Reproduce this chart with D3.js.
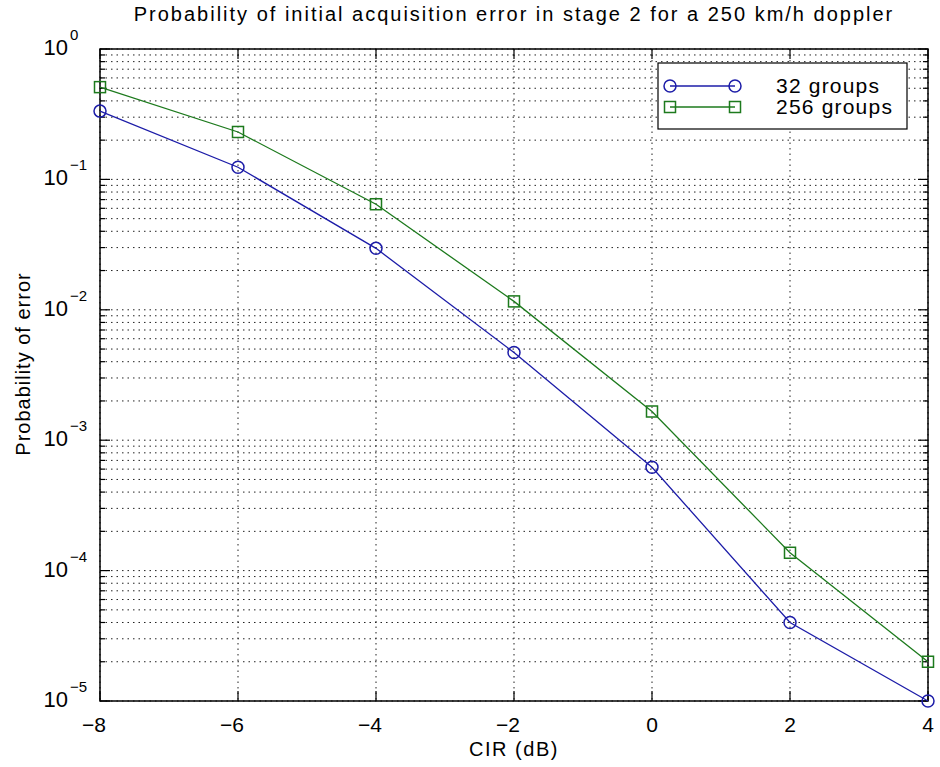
<!DOCTYPE html>
<html>
<head>
<meta charset="utf-8">
<script src="https://cdn.jsdelivr.net/npm/d3@7"></script>
<style>
    body { margin: 0; background: #fff; }
    svg { display: block; font-family: 'Liberation Sans', Arial, sans-serif; }
</style>
</head>
<body>
<svg id="chart"></svg>
<script>
const cirValues = [-8, -6, -4, -2, 0, 2, 4]
const groups32 = [0.334, 0.124, 0.0296, 0.0047, 6.2e-4, 4.0e-5, 1.0e-5]
const groups256 = [0.51, 0.231, 0.0645, 0.0116, 1.66e-3, 1.37e-4, 2.0e-5]
const seriesNames = ['32 groups', '256 groups']
const xTicks = [-8, -6, -4, -2, 0, 2, 4]
const yExponents = [0, -1, -2, -3, -4, -5]

const width = 940
const height = 767
const padding = [49, 12, 66, 100] // top, right, bottom, left

const svg = d3.select('#chart')
    .attr('width', width)
    .attr('height', height)

const plotLeft = padding[3]
const plotRight = width - padding[1]
const plotTop = padding[0]
const plotBottom = height - padding[2]

const x = d3.scaleLinear().domain([-8, 4]).range([plotLeft, plotRight])
const y = d3.scaleLog().domain([1e-5, 1]).range([plotBottom, plotTop])

// minor positions for log grid (2..9 x 10^k)
const minorVals = []
for (let k = -5; k < 0; k++) {
    for (let m = 2; m <= 9; m++) minorVals.push(m * Math.pow(10, k))
}
const majorVals = yExponents.map(e => Math.pow(10, e))

// grid
const grid = svg.append('g')
grid.selectAll('line.gy')
    .data(majorVals.concat(minorVals))
    .join('line')
    .attr('x1', plotLeft).attr('x2', plotRight)
    .attr('y1', d => y(d)).attr('y2', d => y(d))
    .attr('stroke', '#222')
    .attr('stroke-width', 1)
    .attr('stroke-dasharray', '1.5,4')
grid.selectAll('line.gx')
    .data(xTicks)
    .join('line')
    .attr('x1', d => x(d)).attr('x2', d => x(d))
    .attr('y1', plotTop).attr('y2', plotBottom)
    .attr('stroke', '#222')
    .attr('stroke-width', 1)
    .attr('stroke-dasharray', '1.5,4')

// axes ticks (inside, all four sides)
const ticks = svg.append('g').attr('stroke', '#000').attr('stroke-width', 1.2)
xTicks.forEach(d => {
    ticks.append('line').attr('x1', x(d)).attr('x2', x(d)).attr('y1', plotBottom).attr('y2', plotBottom - 10)
    ticks.append('line').attr('x1', x(d)).attr('x2', x(d)).attr('y1', plotTop).attr('y2', plotTop + 10)
})
majorVals.forEach(d => {
    ticks.append('line').attr('x1', plotLeft).attr('x2', plotLeft + 10).attr('y1', y(d)).attr('y2', y(d))
    ticks.append('line').attr('x1', plotRight).attr('x2', plotRight - 10).attr('y1', y(d)).attr('y2', y(d))
})
minorVals.forEach(d => {
    ticks.append('line').attr('x1', plotLeft).attr('x2', plotLeft + 5).attr('y1', y(d)).attr('y2', y(d))
    ticks.append('line').attr('x1', plotRight).attr('x2', plotRight - 5).attr('y1', y(d)).attr('y2', y(d))
})

svg.append('rect')
    .attr('x', plotLeft).attr('y', plotTop)
    .attr('width', plotRight - plotLeft).attr('height', plotBottom - plotTop)
    .attr('fill', 'none')
    .attr('stroke', '#000')
    .attr('stroke-width', 1.5)

// tick labels
svg.append('g').selectAll('text')
    .data(xTicks)
    .join('text')
    .attr('x', d => x(d) - (d < 0 ? 6 : 0))
    .attr('y', plotBottom + 31)
    .attr('text-anchor', 'middle')
    .attr('font-size', 21)
    .text(d => d < 0 ? '\u2212' + Math.abs(d) : d)

const yLab = svg.append('g').selectAll('g')
    .data(yExponents)
    .join('g')
    .attr('transform', d => `translate(68,${y(Math.pow(10, d)) + 6})`)
yLab.append('text')
    .attr('text-anchor', 'end')
    .attr('font-size', 22)
    .text('10')
yLab.append('text')
    .attr('x', 2)
    .attr('y', -15)
    .attr('font-size', 15)
    .text(d => d === 0 ? '0' : '\u2212' + Math.abs(d))

// titles
svg.append('text')
    .attr('x', (plotLeft + plotRight) / 2)
    .attr('y', 21)
    .attr('text-anchor', 'middle')
    .attr('font-size', 20)
    .attr('letter-spacing', 2)
    .text('Probability of initial acquisition error in stage 2 for a 250 km/h doppler')
svg.append('text')
    .attr('x', (plotLeft + plotRight) / 2)
    .attr('y', 756)
    .attr('text-anchor', 'middle')
    .attr('font-size', 20)
    .attr('letter-spacing', 1.5)
    .text('CIR (dB)')
svg.append('text')
    .attr('transform', `translate(30,${(plotTop + plotBottom) / 2 - 11}) rotate(-90)`)
    .attr('text-anchor', 'middle')
    .attr('font-size', 20)
    .attr('letter-spacing', 1)
    .text('Probability of error')

// series
const series = [
    { name: seriesNames[0], values: groups32, color: '#1c1ca8', marker: 'circle' },
    { name: seriesNames[1], values: groups256, color: '#1d7a1d', marker: 'square' },
]
const line = d3.line().x(d => x(d[0])).y(d => y(d[1]))

function drawMarker(g, kind, cx, cy, color) {
    if (kind === 'circle') {
        g.append('circle').attr('cx', cx).attr('cy', cy).attr('r', 6)
            .attr('fill', 'none').attr('stroke', color).attr('stroke-width', 1.5)
    } else {
        g.append('rect').attr('x', cx - 5.5).attr('y', cy - 5.5).attr('width', 11).attr('height', 11)
            .attr('fill', 'none').attr('stroke', color).attr('stroke-width', 1.5)
    }
}

series.forEach(s => {
    const pts = cirValues.map((c, i) => [c, s.values[i]])
    svg.append('path')
        .attr('d', line(pts))
        .attr('fill', 'none')
        .attr('stroke', s.color)
        .attr('stroke-width', 1.3)
    const g = svg.append('g')
    pts.forEach(p => drawMarker(g, s.marker, x(p[0]), y(p[1]), s.color))
})

// legend
const legend = svg.append('g')
legend.append('rect')
    .attr('x', 658).attr('y', 63)
    .attr('width', 249).attr('height', 66)
    .attr('fill', '#fff')
    .attr('stroke', '#000')
    .attr('stroke-width', 1.2)
series.forEach((s, i) => {
    const ly = 86 + i * 21
    legend.append('line')
        .attr('x1', 670).attr('x2', 735)
        .attr('y1', ly).attr('y2', ly)
        .attr('stroke', s.color).attr('stroke-width', 1.3)
    drawMarker(legend, s.marker, 670, ly, s.color)
    drawMarker(legend, s.marker, 735, ly, s.color)
    legend.append('text')
        .attr('x', 776).attr('y', ly + 7)
        .attr('font-size', 21)
        .attr('letter-spacing', 1.2)
        .text(s.name)
})
</script>
</body>
</html>
